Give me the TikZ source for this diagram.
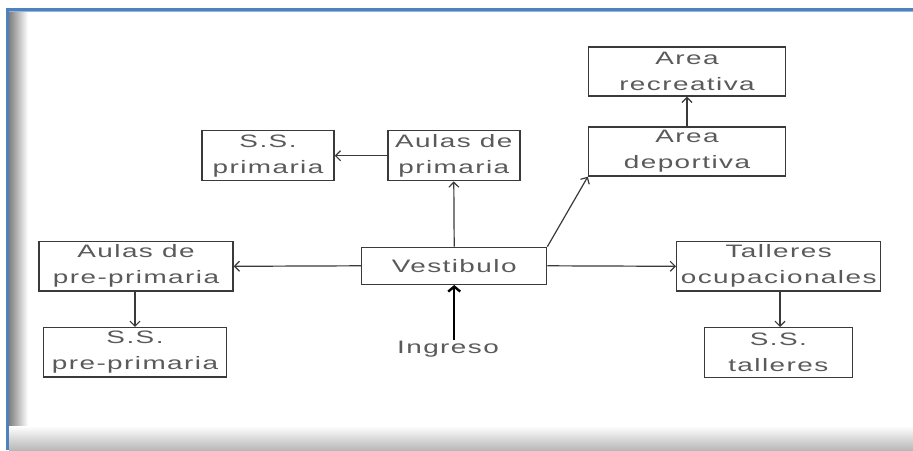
\documentclass[tikz,border=0pt]{standalone}
\usepackage{fontspec}
\setmainfont[FakeStretch=1.55,LetterSpace=8]{Liberation Sans}
\usetikzlibrary{arrows.meta}
\definecolor{frameblue}{HTML}{4F81BD}
\definecolor{boxline}{HTML}{3A3A3A}
\definecolor{txtgray}{HTML}{5A5A5A}
\begin{document}
\begin{tikzpicture}[x=1pt,y=-1pt,
  box/.style={draw=boxline,line width=1.4pt,inner sep=0pt,align=center,
    text=txtgray,font=\fontsize{18}{26}\selectfont},
  conn/.style={draw=boxline,line width=1.2pt,-{Straight Barb[length=5pt,width=10pt]}},
  thickconn/.style={draw=black,line width=2.4pt,-{Straight Barb[length=5pt,width=12pt]}}]
\useasboundingbox (0,0) rectangle (913,450);
\fill[white] (0,0) rectangle (913,450);
% frame shadows
\shade[left color=black!50,right color=white] (9,10) rectangle (28,450);
\shade[top color=white,bottom color=black!28] (9,426) rectangle (913,450);
% frame lines
\draw[frameblue,line width=2.6pt] (6,9.3) -- (913,9.3);
\draw[frameblue!60,line width=0.8pt] (9,11.2) -- (913,11.2);
\draw[frameblue,line width=3pt] (7.5,8) -- (7.5,450);
% nodes
\node[box,minimum width=197pt,minimum height=49pt] (rec) at (687,71.5) {Area\\recreativa};
\node[box,minimum width=197pt,minimum height=49pt] (dep) at (687,151.5) {Area\\deportiva};
\node[box,minimum width=132pt,minimum height=50pt] (ssp) at (268,155.7) {S.S.\\primaria};
\node[box,minimum width=132pt,minimum height=50pt] (aup) at (453.8,155.7) {Aulas de\\primaria};
\node[box,minimum width=194pt,minimum height=49.3pt] (aupp) at (136,266.3) {Aulas de\\pre-primaria};
\node[box,minimum width=185pt,minimum height=37pt] (vest) at (454.2,265.8) {Vestibulo};
\node[box,minimum width=204pt,minimum height=49.3pt] (tal) at (778.7,266.3) {Talleres\\ocupacionales};
\node[box,minimum width=183.4pt,minimum height=49.3pt] (sspp) at (135,352.3) {S.S.\\pre-primaria};
\node[box,minimum width=148pt,minimum height=49.6pt] (sst) at (778.3,352.5) {S.S.\\talleres};
\node[inner sep=0pt,anchor=base,text=txtgray,font=\fontsize{18}{26}\selectfont] (ing) at (448,353) {Ingreso};
% connectors
\draw[conn] (vest.north) -- (aup.south);
\draw[conn] (aup.west) -- (ssp.east);
\draw[conn] (vest.west) -- (aupp.west -| aupp.east);
\draw[conn] (aupp.south -| sspp.north) -- (sspp.north);
\draw[conn] (vest.east) -- (tal.west);
\draw[conn] ([xshift=1.3pt]tal.south) -- ([xshift=1.7pt]sst.north);
\draw[conn] (vest.north east) -- (dep.south west);
\draw[conn] (dep.north) -- (rec.south);
\draw[thickconn] (ing.north -| vest.south) -- (vest.south);
\end{tikzpicture}
\end{document}
